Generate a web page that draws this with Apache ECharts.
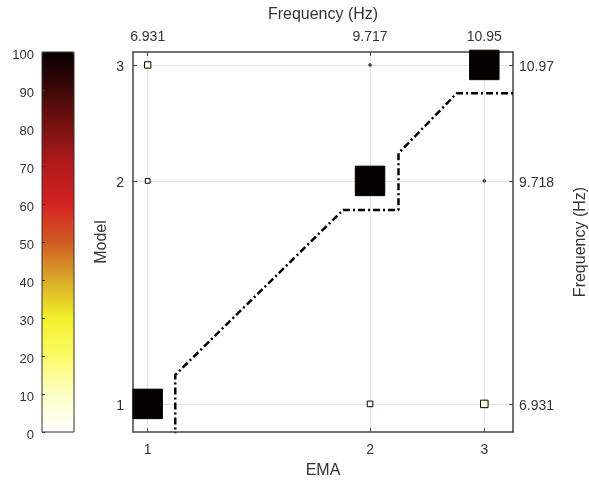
<!DOCTYPE html>
<html><head><meta charset="utf-8">
<script src="https://cdn.jsdelivr.net/npm/echarts@6/dist/echarts.min.js"></script>
<style>html,body{margin:0;padding:0;background:#fff}#c{width:589px;height:482px}</style>
</head><body><div id="c"></div>
<script>
// Mode positions on the (non-uniform) plotting axes
const emaPos = [1, 2, 2.514];
const modelPos = [1, 2, 2.520];
const emaLabels = ['1', '2', '3'];
const modelLabels = ['1', '2', '3'];
const emaFreq = ['6.931', '9.717', '10.95'];
const modelFreq = ['6.931', '9.718', '10.97'];
// MAC values (%) : [emaIndex, modelIndex, value]
const macValues = [
  [0, 0, 99.9], [0, 1, 2.6], [0, 2, 4.6],
  [1, 0, 3.6], [1, 1, 99.8], [1, 2, 0.45],
  [2, 0, 6.5], [2, 1, 0.45], [2, 2, 99.7]
];
// dash-dot reference line
const lineX = [1.124, 1.124, 1.879, 2.128, 2.128, 2.390, 2.700];
const lineY = [0.840, 1.130, 1.870, 1.870, 2.124, 2.393, 2.393];
// colour scale
const colorTicks = [0, 10, 20, 30, 40, 50, 60, 70, 80, 90, 100];
const colorStops = ['#ffffff', '#fefec6', '#fbfb66', '#f1f02a', '#d9aa28', '#d05a22',
                    '#d32222', '#b21a1a', '#7c1212', '#3e0808', '#050000'];

const xMin = 0.934, xMax = 2.643, yMin = 0.874, yMax = 2.578;
const txt = '#333';
const axisLineStyle = { color: '#444', width: 1.5 };
const font = 'Liberation Sans, Arial, sans-serif';
const tickFont = 14, nameFont = 16;

const scatterData = macValues.map(d => [emaPos[d[0]], modelPos[d[1]], d[2]]);
const lineData = lineX.map((x, i) => [x, lineY[i]]);
const low = (s) => '{a|' + s + '}';

const chart = echarts.init(document.getElementById('c'), null, { renderer: 'canvas' });
chart.setOption({
  animation: false,
  textStyle: { fontFamily: font },
  grid: [
    { left: 133, top: 52, width: 380, height: 380, show: false, outerBoundsMode: 'none', containLabel: false },
    { left: 42, top: 52, width: 32, height: 380, show: true, borderColor: '#333', borderWidth: 1,
      backgroundColor: 'rgba(0,0,0,0)', z: 10, outerBoundsMode: 'none', containLabel: false }
  ],
  xAxis: [
    { type: 'value', gridIndex: 0, position: 'bottom', min: xMin, max: xMax,
      name: 'EMA', nameLocation: 'middle', nameGap: 31, nameMoveOverlap: false,
      nameTextStyle: { fontSize: nameFont, color: txt, fontFamily: font },
      axisLine: { show: true, lineStyle: axisLineStyle },
      axisTick: { show: true, inside: true, length: 4, customValues: emaPos, lineStyle: { color: '#444' } },
      axisLabel: { customValues: emaPos, margin: 11, fontSize: tickFont, color: txt,
        formatter: v => emaLabels[emaPos.indexOf(v)] },
      splitLine: { show: true, lineStyle: { color: '#e3e3e3', width: 1 } }
    },
    { type: 'value', gridIndex: 0, position: 'top', min: xMin, max: xMax,
      name: 'Frequency (Hz)', nameLocation: 'middle', nameGap: 29, nameMoveOverlap: false,
      nameTextStyle: { fontSize: nameFont, color: txt, fontFamily: font },
      axisLine: { show: true, lineStyle: axisLineStyle },
      axisTick: { show: true, inside: true, length: 4, customValues: emaPos, lineStyle: { color: '#444' } },
      axisLabel: { customValues: emaPos, margin: 8, fontSize: tickFont, color: txt,
        formatter: v => emaFreq[emaPos.indexOf(v)] },
      splitLine: { show: false }
    },
    { type: 'value', gridIndex: 1, show: false, min: 0, max: 1 }
  ],
  yAxis: [
    { type: 'value', gridIndex: 0, position: 'left', min: yMin, max: yMax,
      name: 'Model', nameLocation: 'middle', nameGap: 23, nameRotate: 90, nameMoveOverlap: false,
      nameTextStyle: { fontSize: nameFont, color: txt, fontFamily: font },
      axisLine: { show: true, lineStyle: axisLineStyle },
      axisTick: { show: true, inside: true, length: 4, customValues: modelPos, lineStyle: { color: '#444' } },
      axisLabel: { customValues: modelPos, margin: 9, fontSize: tickFont, color: txt,
        rich: { a: { fontSize: tickFont, color: txt, padding: [4, 0, 0, 0] } },
        formatter: v => low(modelLabels[modelPos.indexOf(v)]) },
      splitLine: { show: true, lineStyle: { color: '#e3e3e3', width: 1 } }
    },
    { type: 'value', gridIndex: 0, position: 'right', min: yMin, max: yMax,
      name: 'Frequency (Hz)', nameLocation: 'middle', nameGap: 60, nameRotate: 90, nameMoveOverlap: false,
      nameTextStyle: { fontSize: nameFont, color: txt, fontFamily: font },
      axisLine: { show: true, lineStyle: axisLineStyle },
      axisTick: { show: true, inside: true, length: 4, customValues: modelPos, lineStyle: { color: '#444' } },
      axisLabel: { customValues: modelPos, margin: 6, fontSize: tickFont, color: txt,
        rich: { a: { fontSize: tickFont, color: txt, padding: [5, 0, 0, 0] } },
        formatter: v => low(modelFreq[modelPos.indexOf(v)]) },
      splitLine: { show: false }
    },
    { type: 'value', gridIndex: 1, position: 'left', min: 0, max: 100, interval: 10, z: 10,
      axisLine: { show: false },
      axisTick: { show: true, inside: true, length: 3, lineStyle: { color: '#333' } },
      axisLabel: { margin: 8, fontSize: 13, color: txt,
        rich: { a: { fontSize: 13, color: txt, padding: [7, 0, 0, 0] } },
        formatter: v => low(String(v)) },
      splitLine: { show: false }
    }
  ],
  visualMap: {
    type: 'continuous', min: 0, max: 100, dimension: 2, seriesIndex: 0,
    inRange: { color: colorStops }, calculable: false, hoverLink: false,
    left: 42, top: 52, itemWidth: 32, itemHeight: 380, padding: 0, z: 1
  },
  series: [
    { type: 'scatter', xAxisIndex: 0, yAxisIndex: 0, data: scatterData, symbol: 'rect',
      symbolSize: v => Math.max(2, 29.5 * Math.sqrt(v[2] / 100)),
      itemStyle: { borderColor: '#000', borderWidth: 1, opacity: 1 }, z: 5 },
    { type: 'line', xAxisIndex: 0, yAxisIndex: 0, data: lineData, symbol: 'none',
      lineStyle: { color: '#000', width: 2.5, type: [7, 3, 2, 3] }, z: 3 }
  ]
});
</script></body></html>
